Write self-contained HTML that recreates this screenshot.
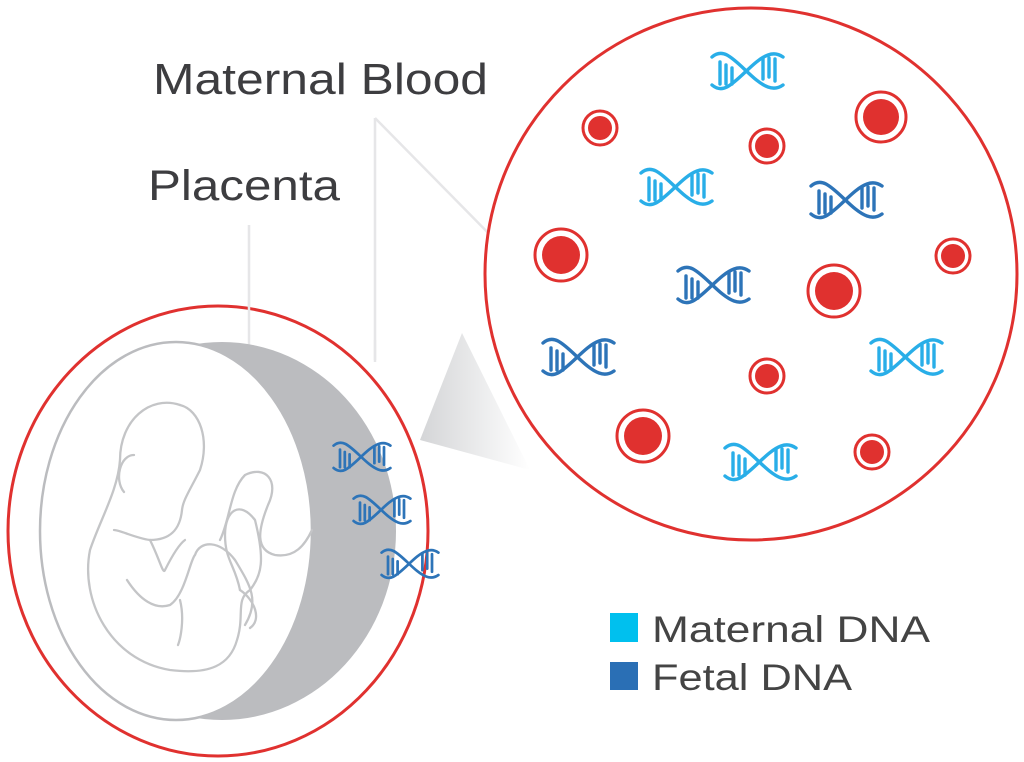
<!DOCTYPE html>
<html><head><meta charset="utf-8"><style>
html,body{margin:0;padding:0;background:#fff;}
svg{display:block}
text{font-family:"Liberation Sans",sans-serif;}
</style></head><body>
<svg width="1024" height="762" viewBox="0 0 1024 762" xmlns="http://www.w3.org/2000/svg">
<defs>
<linearGradient id="beam" x1="0" y1="0" x2="1" y2="0">
<stop offset="0" stop-color="#d4d5d7"/><stop offset="1" stop-color="#ffffff"/>
</linearGradient>
<g id="dna" fill="none" stroke-width="3.4" stroke-linecap="round">
<path d="M2,7 Q9,1 17,5 C30,12 44,32 58,37 Q66,40 73,35"/>
<path d="M2,35 Q9,41 17,37 C30,30 44,10 58,5 Q66,2 73,7"/>
<path d="M10,12 V34 M16,15 V34 M22,18 V34 M53,8 V29 M59,8 V27 M65,9 V31"/>
</g>
</defs>

<!-- labels -->
<text x="153" y="94" font-size="44" fill="#3d3d40" textLength="335" lengthAdjust="spacingAndGlyphs">Maternal Blood</text>
<text x="148" y="200" font-size="43" fill="#3d3d40" textLength="192" lengthAdjust="spacingAndGlyphs">Placenta</text>
<g stroke="#e6e6e8" stroke-width="2.5" fill="none">
<line x1="249" y1="225" x2="249" y2="352"/>
<line x1="375" y1="118" x2="375" y2="360"/>
<line x1="375" y1="118" x2="505" y2="250"/>
</g>

<!-- left circle -->
<ellipse cx="218" cy="531" rx="210" ry="225" fill="#fff" stroke="#e0312f" stroke-width="3"/>
<line x1="249" y1="300" x2="249" y2="352" stroke="#e6e6e8" stroke-width="2.5"/>
<line x1="375" y1="340" x2="375" y2="362" stroke="#e6e6e8" stroke-width="2.5"/>
<ellipse cx="222" cy="531" rx="174" ry="189" fill="#bbbcbf"/>
<ellipse cx="176" cy="531" rx="136" ry="189" fill="#fff" stroke="#bbbcbf" stroke-width="2.5"/>

<!-- fetus -->
<g fill="none" stroke="#c4c5c7" stroke-width="2.3" stroke-linecap="round">
<path d="M180,405 C150,395 120,420 120,460 C118,490 100,520 90,550 C80,600 110,660 170,670 C210,675 230,665 237,640 C245,615 235,600 250,590 C262,575 265,560 255,520 C240,500 225,510 225,535 C225,560 235,565 240,590"/>
<path d="M180,405 C200,410 210,440 200,470 C190,490 183,500 182,510 C180,530 170,540 150,540 C135,538 120,530 114,530"/>
<path d="M134,455 C120,455 114,480 124,492"/>
<path d="M150,540 C160,560 163,575 165,570 C170,560 178,545 185,540"/>
<path d="M127,580 C140,600 155,610 170,605 C185,595 190,560 195,555 C200,540 220,540 235,560 C250,585 260,600 245,625"/>
<path d="M180,600 C185,620 180,640 178,645"/>
<path d="M220,540 C230,520 230,490 245,475 C265,465 280,480 268,505 C258,530 255,550 275,555 C295,558 305,545 312,530"/>
<path d="M240,590 C255,600 262,620 250,628"/>
</g>
<use href="#dna" transform="translate(332,440) scale(0.8)" stroke="#2d74b8"/>
<use href="#dna" transform="translate(352,493) scale(0.8)" stroke="#2d74b8"/>
<use href="#dna" transform="translate(380,547) scale(0.8)" stroke="#2d74b8"/>

<!-- beam -->
<polygon points="420,440 462,333 530,470" fill="url(#beam)"/>

<!-- right circle -->
<circle cx="751" cy="274" r="266" fill="#fff" stroke="#e0312f" stroke-width="3"/>

<g stroke="#29aee8">
<use href="#dna" x="710" y="50"/>
<use href="#dna" x="639" y="166"/>
<use href="#dna" x="869" y="336"/>
<use href="#dna" x="723" y="441"/>
</g>
<g stroke="#2d74b8">
<use href="#dna" x="809" y="179"/>
<use href="#dna" x="676" y="264"/>
<use href="#dna" x="541" y="336"/>
</g>

<!-- red cells -->
<g fill="#e0312f" stroke="#e0312f">
<g><circle cx="600" cy="128" r="17" fill="#fff" stroke-width="3"/><circle cx="600" cy="128" r="12" stroke="none"/></g>
<g><circle cx="767" cy="146" r="17" fill="#fff" stroke-width="3"/><circle cx="767" cy="146" r="12" stroke="none"/></g>
<g><circle cx="881" cy="117" r="25" fill="#fff" stroke-width="3"/><circle cx="881" cy="117" r="18" stroke="none"/></g>
<g><circle cx="561" cy="255" r="26" fill="#fff" stroke-width="3"/><circle cx="561" cy="255" r="19" stroke="none"/></g>
<g><circle cx="953" cy="256" r="17" fill="#fff" stroke-width="3"/><circle cx="953" cy="256" r="12" stroke="none"/></g>
<g><circle cx="834" cy="291" r="26" fill="#fff" stroke-width="3"/><circle cx="834" cy="291" r="19" stroke="none"/></g>
<g><circle cx="767" cy="376" r="17" fill="#fff" stroke-width="3"/><circle cx="767" cy="376" r="12" stroke="none"/></g>
<g><circle cx="643" cy="436" r="26" fill="#fff" stroke-width="3"/><circle cx="643" cy="436" r="19" stroke="none"/></g>
<g><circle cx="872" cy="452" r="17" fill="#fff" stroke-width="3"/><circle cx="872" cy="452" r="12" stroke="none"/></g>
</g>

<!-- legend -->
<rect x="610" y="613" width="28" height="29" fill="#00c0ee"/>
<rect x="610" y="662" width="28" height="28" fill="#2a6fb5"/>
<text x="652" y="642" font-size="37" fill="#444" textLength="278" lengthAdjust="spacingAndGlyphs">Maternal DNA</text>
<text x="652" y="690" font-size="37" fill="#444" textLength="200" lengthAdjust="spacingAndGlyphs">Fetal DNA</text>
</svg>
</body></html>
